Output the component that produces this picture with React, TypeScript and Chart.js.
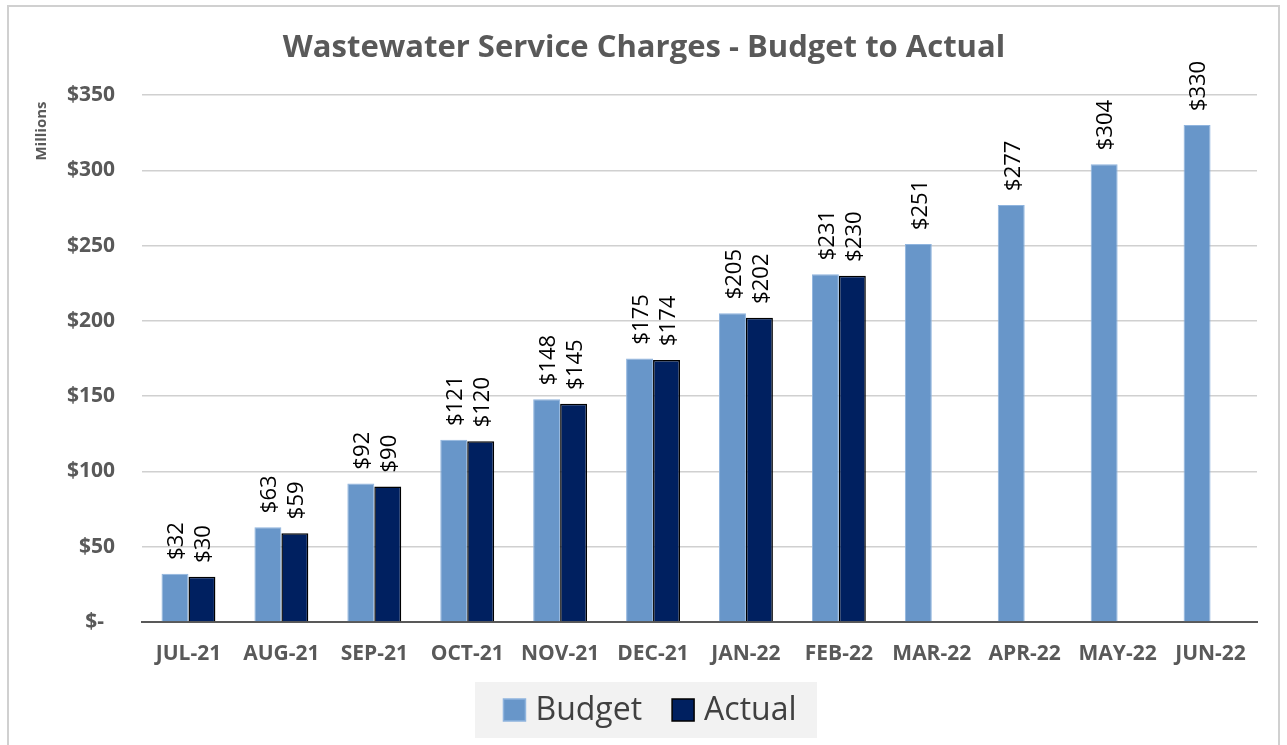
import React, { useEffect, useRef } from "react";
import { Chart, registerables } from "chart.js";

Chart.register(...registerables);

const categories = ["JUL-21", "AUG-21", "SEP-21", "OCT-21", "NOV-21", "DEC-21", "JAN-22", "FEB-22", "MAR-22", "APR-22", "MAY-22", "JUN-22"];
const budget = [32, 63, 92, 121, 148, 175, 205, 231, 251, 277, 304, 330];
const actual: (number | null)[] = [30, 59, 90, 120, 145, 174, 202, 230, null, null, null, null];
const titleText = "Wastewater Service Charges - Budget to Actual";
const axisUnitLabel = "Millions";
const yMin = 0;
const yMax = 350;
const yStep = 50;

const FONT = "'Open Sans', 'DejaVu Sans', sans-serif";

const framePlugin = {
  id: "frame",
  beforeDraw(chart: any) {
    const ctx = chart.ctx;
    ctx.save();
    ctx.fillStyle = "#ffffff";
    ctx.fillRect(0, 0, chart.width, chart.height);
    ctx.strokeStyle = "#d0d0d0";
    ctx.lineWidth = 2;
    ctx.strokeRect(8, 6, 1271, 800);
    ctx.restore();
  },
};

const extrasPlugin = {
  id: "extras",
  afterDatasetsDraw(chart: any) {
    const ctx = chart.ctx;
    ctx.save();
    ctx.font = `22px ${FONT}`;
    ctx.fillStyle = "#000000";
    ctx.textAlign = "left";
    ctx.textBaseline = "middle";
    chart.data.datasets.forEach((ds: any, di: number) => {
      const meta = chart.getDatasetMeta(di);
      meta.data.forEach((el: any, i: number) => {
        const v = ds.data[i];
        if (v === null || v === undefined) return;
        ctx.save();
        ctx.translate(el.x + 2, el.y - 14);
        ctx.rotate(-Math.PI / 2);
        ctx.fillText("$" + v, 0, 0);
        ctx.restore();
      });
    });
    ctx.restore();
  },
  afterDraw(chart: any) {
    const ctx = chart.ctx;
    // title
    ctx.save();
    ctx.font = `bold 31px ${FONT}`;
    ctx.fillStyle = "#595959";
    ctx.textAlign = "center";
    ctx.textBaseline = "alphabetic";
    ctx.fillText(titleText, 644, 57);
    ctx.restore();

    // axis unit label
    ctx.save();
    ctx.font = `bold 15px ${FONT}`;
    ctx.fillStyle = "#595959";
    ctx.textAlign = "center";
    ctx.textBaseline = "middle";
    ctx.translate(42, 131);
    ctx.rotate(-Math.PI / 2);
    ctx.fillText(axisUnitLabel, 0, 0);
    ctx.restore();

    // legend
    ctx.save();
    ctx.fillStyle = "#f2f2f2";
    ctx.fillRect(475, 682, 342, 56);
    ctx.font = `32px ${FONT}`;
    ctx.textBaseline = "middle";
    ctx.textAlign = "left";
    const items = chart.data.datasets.map((d: any) => ({
      label: d.label,
      fill: d.backgroundColor,
      stroke: d.borderColor,
      w: ctx.measureText(d.label).width,
    }));
    const sq = 22;
    const gapText = 10;
    const gapItem = 30;
    let total = 0;
    items.forEach((it: any, i: number) => {
      total += sq + gapText + it.w + (i < items.length - 1 ? gapItem : 0);
    });
    let x = 650 - total / 2;
    const cy = 710;
    items.forEach((it: any) => {
      ctx.fillStyle = it.fill;
      ctx.fillRect(x, cy - sq / 2, sq, sq);
      ctx.strokeStyle = it.stroke;
      ctx.lineWidth = 1.5;
      ctx.strokeRect(x, cy - sq / 2, sq, sq);
      ctx.fillStyle = "#404040";
      ctx.fillText(it.label, x + sq + gapText, cy + 1);
      x += sq + gapText + it.w + gapItem;
    });
    ctx.restore();
  },
};

export default function App() {
  const ref = useRef<HTMLCanvasElement | null>(null);
  useEffect(() => {
    if (!ref.current) return;
    const chart = new Chart(ref.current, {
      type: "bar",
      data: {
        labels: categories,
        datasets: [
          {
            label: "Budget",
            data: budget,
            backgroundColor: "#6896c9",
            borderColor: "#8fb4de",
            borderWidth: 1,
            categoryPercentage: 0.58,
            barPercentage: 1.0,
          },
          {
            label: "Actual",
            data: actual,
            backgroundColor: "#002060",
            borderColor: "#000000",
            borderWidth: 1.5,
            categoryPercentage: 0.58,
            barPercentage: 1.0,
          },
        ],
      },
      options: {
        animation: false,
        responsive: true,
        maintainAspectRatio: false,
        layout: { padding: { top: 95, left: 0, right: 30, bottom: 0 } },
        plugins: {
          legend: { display: false },
          tooltip: { enabled: false },
          title: { display: false },
        },
        scales: {
          x: {
            grid: { display: false, drawTicks: false },
            border: { display: true, color: "#595959", width: 2 },
            ticks: {
              color: "#595959",
              font: { family: FONT, size: 21, weight: "bold" },
              padding: 19,
              maxRotation: 0,
              autoSkip: false,
            },
            afterFit: (s: any) => {
              s.height = 123;
            },
          },
          y: {
            min: yMin,
            max: yMax,
            grid: { color: "#d0d0d0", lineWidth: 1.5, drawTicks: false },
            border: { display: false },
            ticks: {
              stepSize: yStep,
              color: "#595959",
              font: { family: FONT, size: 21, weight: "bold" },
              padding: 27,
              callback: (v: any) => (v === 0 ? "$-  " : "$" + v),
            },
            afterFit: (s: any) => {
              s.width = 142;
            },
          },
        },
      },
      plugins: [framePlugin, extrasPlugin],
    });
    return () => chart.destroy();
  }, []);
  return (
    <div style={{ position: "fixed", left: 0, top: 0, width: 1287, height: 745, background: "#fff" }}>
      <canvas ref={ref} />
    </div>
  );
}
